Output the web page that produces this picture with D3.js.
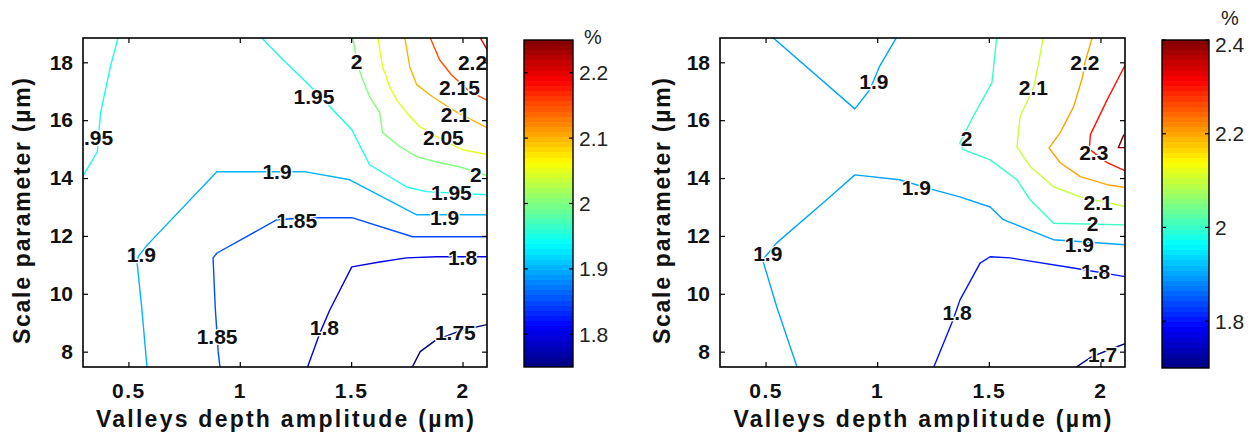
<!DOCTYPE html>
<html><head><meta charset="utf-8">
<script src="https://cdn.jsdelivr.net/npm/d3@7"></script>
<style>
body{margin:0;background:#fff}
svg text{font-family:"Liberation Sans",Arial,Helvetica,sans-serif}
</style></head>
<body><svg id="chart" width="1258" height="432"></svg>
<script>
// ---------- data ----------
const xTicks = [0.5, 1, 1.5, 2];
const yTicks = [8, 10, 12, 14, 16, 18];
const xDomain = [0.296, 2.11];
const yDomain = [7.47, 18.84];
const xLabel = "Valleys depth amplitude (\u00b5m)";
const yLabel = "Scale parameter (\u00b5m)";
const unitLabel = "%";

const leftCbarRange = [1.75, 2.25];
const leftCbarTicks = [1.8, 1.9, 2, 2.1, 2.2];
const rightCbarRange = [1.7, 2.4];
const rightCbarTicks = [1.8, 2, 2.2, 2.4];

// contour lines: level + polyline (x = amplitude, y = scale parameter)
const leftContours = [
  {level: 1.75, pts: [[1.77,7.4],[1.81,8.0],[1.88,8.4],[2.0,8.75],[2.12,8.95]]},
  {level: 1.8,  pts: [[1.301,7.4],[1.36,8.65],[1.404,9.44],[1.503,10.93],[1.628,11.10],[1.749,11.24],[1.883,11.28],[2.12,11.28]]},
  {level: 1.85, pts: [[0.912,7.4],[0.903,8.0],[0.89,9.5],[0.88,11.24],[0.898,11.41],[1.167,12.56],[1.30,12.63],[1.503,12.63],[1.776,11.97],[2.12,11.97]]},
  {level: 1.9,  pts: [[0.584,7.4],[0.56,9.5],[0.539,11.07],[0.545,11.3],[0.585,11.69],[0.897,14.22],[1.29,14.22],[1.494,13.94],[1.794,12.73],[2.12,12.73]]},
  {level: 1.95, pts: [[0.455,18.9],[0.419,17.85],[0.375,16.26],[0.36,14.9],[0.29,14.0]]},
  {level: 1.95, pts: [[1.091,18.9],[1.194,18.09],[1.30,17.3],[1.404,16.47],[1.503,15.67],[1.583,14.46],[1.749,13.69],[1.838,13.53],[2.12,13.42]]},
  {level: 2,    pts: [[1.507,18.9],[1.525,18.02],[1.547,17.5],[1.583,16.81],[1.628,16.26],[1.641,15.57],[1.718,15.09],[1.794,14.74],[1.897,14.53],[1.986,14.39],[2.12,14.06]]},
  {level: 2.05, pts: [[1.619,18.9],[1.641,17.85],[1.673,17.16],[1.704,16.7],[1.749,16.26],[1.807,15.78],[1.914,15.3],[2.0,14.98],[2.12,14.8]]},
  {level: 2.1,  pts: [[1.74,18.9],[1.763,17.85],[1.794,17.23],[1.865,16.81],[1.968,16.3],[2.12,15.7]]},
  {level: 2.15, pts: [[1.852,18.9],[1.897,18.09],[1.95,17.57],[2.03,17.0],[2.12,16.65]]},
  {level: 2.2,  pts: [[2.076,18.9],[2.12,18.3]]}
];
const leftLabels = [
  {level: 1.75, at: [1.968, 8.66]},
  {level: 1.8,  at: [1.38, 8.85]},
  {level: 1.8,  at: [2.0, 11.27]},
  {level: 1.85, at: [0.898, 8.51]},
  {level: 1.85, at: [1.256, 12.55]},
  {level: 1.9,  at: [0.558, 11.35]},
  {level: 1.9,  at: [1.167, 14.22]},
  {level: 1.9,  at: [1.92, 12.64]},
  {level: 1.95, at: [0.34, 15.4]},
  {level: 1.95, at: [1.333, 16.82]},
  {level: 1.95, at: [1.95, 13.5]},
  {level: 2,    at: [1.525, 18.02]},
  {level: 2,    at: [2.06, 14.12]},
  {level: 2.05, at: [1.914, 15.39]},
  {level: 2.1,  at: [1.968, 16.19]},
  {level: 2.15, at: [1.986, 17.12]},
  {level: 2.2,  at: [2.045, 17.98]}
];

const rightContours = [
  {level: 1.7, pts: [[1.879,7.4],[1.96,7.82],[2.05,8.1],[2.12,8.3]]},
  {level: 1.8, pts: [[1.25,7.4],[1.34,9.1],[1.371,9.79],[1.461,11.06],[1.506,11.28],[1.596,11.24],[1.879,10.89],[2.12,10.58]]},
  {level: 1.9, pts: [[0.644,7.4],[0.55,9.55],[0.487,11.17],[0.55,11.76],[0.774,13.25],[0.90,14.11],[1.10,13.94],[1.25,13.6],[1.37,13.35],[1.506,13.0],[1.565,12.56],[1.789,11.87],[2.12,11.69]]},
  {level: 1.9, pts: [[0.526,18.9],[0.90,16.39],[0.967,17.05],[1.01,17.85],[1.09,18.9]]},
  {level: 2,   pts: [[1.536,18.9],[1.514,17.29],[1.43,16.13],[1.37,15.21],[1.385,14.98],[1.506,14.63],[1.626,13.94],[1.685,13.25],[1.79,12.44],[2.12,12.38]]},
  {level: 2.1, pts: [[1.745,18.9],[1.72,17.85],[1.70,17.12],[1.64,16.12],[1.626,15.08],[1.685,14.4],[1.79,13.7],[1.91,13.35],[2.12,13.0]]},
  {level: 2.2, pts: [[1.965,18.9],[1.93,17.98],[1.92,17.5],[1.88,16.47],[1.82,15.57],[1.77,15.04],[1.82,14.53],[1.91,14.05],[2.03,13.77],[2.12,13.66]]},
  {level: 2.3, pts: [[2.12,18.05],[2.03,16.7],[1.955,15.5],[1.95,15.0],[2.03,14.53],[2.12,14.22]]},
  {level: 2.4, pts: [[2.105,15.5],[2.08,15.05],[2.112,15.05]]}
];
const rightLabels = [
  {level: 1.7, at: [2.01, 7.92]},
  {level: 1.8, at: [1.358, 9.37]},
  {level: 1.8, at: [1.978, 10.76]},
  {level: 1.9, at: [0.51, 11.4]},
  {level: 1.9, at: [1.175, 13.69]},
  {level: 1.9, at: [1.906, 11.72]},
  {level: 1.9, at: [0.985, 17.33]},
  {level: 2,   at: [1.40, 15.36]},
  {level: 2,   at: [1.965, 12.42]},
  {level: 2.1, at: [1.99, 13.16]},
  {level: 2.1, at: [1.70, 17.12]},
  {level: 2.2, at: [1.93, 17.98]},
  {level: 2.3, at: [1.97, 14.9]}
];

// ---------- layout ----------
const plotTop = 38, plotBottom = 367;
const panels = [
  {name: "L", x0: 83, x1: 487, contours: leftContours, labels: leftLabels,
   cb: {x: 524, w: 49, y0: 40, y1: 367, range: leftCbarRange, ticks: leftCbarTicks, pct: [593, 37]}, ylabX: 22},
  {name: "R", x0: 720, x1: 1125, contours: rightContours, labels: rightLabels,
   cb: {x: 1162, w: 47, y0: 40, y1: 368, range: rightCbarRange, ticks: rightCbarTicks, pct: [1230, 18]}, ylabX: 662}
];

function jet(t) {
  const c = v => Math.max(0, Math.min(1, v));
  const r = c(1.5 - Math.abs(4 * t - 3)), g = c(1.5 - Math.abs(4 * t - 2)), b = c(1.5 - Math.abs(4 * t - 1));
  return d3.rgb(r * 255, g * 255, b * 255).formatHex();
}

const FONT = '"Liberation Sans",Arial,Helvetica,sans-serif';
const svg = d3.select("#chart");
const defs = svg.append("defs");

panels.forEach(p => {
  const x = d3.scaleLinear().domain(xDomain).range([p.x0, p.x1]);
  const y = d3.scaleLinear().domain(yDomain).range([plotBottom, plotTop]);
  const tcol = d3.scaleLinear().domain(p.cb.range).range([0, 1]).clamp(true);

  defs.append("clipPath").attr("id", "clip" + p.name)
    .append("rect").attr("x", p.x0).attr("y", plotTop)
    .attr("width", p.x1 - p.x0).attr("height", plotBottom - plotTop);

  const g = svg.append("g").attr("clip-path", `url(#clip${p.name})`);
  const line = d3.line().x(d => x(d[0])).y(d => y(d[1]));
  g.selectAll("path.cl").data(p.contours).join("path").attr("class", "cl")
    .attr("d", d => line(d.pts)).attr("fill", "none")
    .attr("stroke", d => jet(tcol(d.level))).attr("stroke-width", 1.4)
    .attr("stroke-linejoin", "round");
  g.selectAll("text.lab").data(p.labels).join("text").attr("class", "lab")
    .attr("x", d => x(d.at[0])).attr("y", d => y(d.at[1]))
    .attr("dy", "0.36em").attr("text-anchor", "middle")
    .style("font-family", FONT).style("font-size", "21px").style("font-weight", "bold")
    .attr("fill", "#111").attr("stroke", "#fff").attr("stroke-width", 2.5)
    .attr("paint-order", "stroke").attr("stroke-linejoin", "round")
    .text(d => String(d.level));

  // axes
  const fmt = d => String(d);
  const ax = svg.append("g").attr("transform", `translate(0,${plotBottom})`)
    .call(d3.axisBottom(x).tickValues(xTicks).tickSizeInner(-5).tickSizeOuter(0).tickPadding(16).tickFormat(fmt));
  ax.selectAll("text").style("font-family", FONT).style("font-size", "21px").style("font-weight", "bold")
    .style("letter-spacing", "1.5px").attr("fill", "#111");
  svg.append("g").attr("transform", `translate(0,${plotTop})`)
    .call(d3.axisTop(x).tickValues(xTicks).tickSizeInner(-5).tickSizeOuter(0).tickFormat(""));
  const ay = svg.append("g").attr("transform", `translate(${p.x0},0)`)
    .call(d3.axisLeft(y).tickValues(yTicks).tickSizeInner(-5).tickSizeOuter(0).tickPadding(10).tickFormat(fmt));
  ay.selectAll("text").style("font-family", FONT).style("font-size", "21px").style("font-weight", "bold").attr("fill", "#111");
  svg.append("g").attr("transform", `translate(${p.x1},0)`)
    .call(d3.axisRight(y).tickValues(yTicks).tickSizeInner(-5).tickSizeOuter(0).tickFormat(""));
  svg.selectAll(".domain").remove();
  svg.selectAll(".tick line").attr("stroke", "#000").attr("stroke-width", 1.2);

  svg.append("rect").attr("x", p.x0).attr("y", plotTop).attr("width", p.x1 - p.x0).attr("height", plotBottom - plotTop)
    .attr("fill", "none").attr("stroke", "#000").attr("stroke-width", 1.6);

  // axis titles
  svg.append("text").attr("x", (p.x0 + p.x1) / 2).attr("y", 427).attr("text-anchor", "middle")
    .attr("textLength", 378).attr("lengthAdjust", "spacing")
    .style("font-family", FONT).style("font-size", "23px").style("font-weight", "bold").attr("fill", "#111")
    .text(xLabel);
  svg.append("text").attr("transform", `translate(${p.ylabX},211) rotate(-90)`).attr("dy", "0.36em")
    .attr("text-anchor", "middle").attr("textLength", 266).attr("lengthAdjust", "spacing")
    .style("font-family", FONT).style("font-size", "23px").style("font-weight", "bold").attr("fill", "#111")
    .text(yLabel);

  // colorbar
  const cb = p.cb;
  const cy = d3.scaleLinear().domain(cb.range).range([cb.y1, cb.y0]);
  const gid = "grad" + p.name;
  const grad = defs.append("linearGradient").attr("id", gid).attr("x1", 0).attr("y1", 1).attr("x2", 0).attr("y2", 0);
  const nStops = 64;
  d3.range(nStops).forEach(i => {
    const col = jet((i + 0.5) / nStops);
    grad.append("stop").attr("offset", i / nStops).attr("stop-color", col);
    grad.append("stop").attr("offset", (i + 1) / nStops).attr("stop-color", col);
  });
  svg.append("rect").attr("x", cb.x).attr("y", cb.y0).attr("width", cb.w).attr("height", cb.y1 - cb.y0)
    .attr("fill", `url(#${gid})`).attr("stroke", "#000").attr("stroke-width", 1.4);
  const cbg = svg.append("g");
  cb.ticks.forEach(t => {
    cbg.append("line").attr("x1", cb.x).attr("x2", cb.x + 4).attr("y1", cy(t)).attr("y2", cy(t)).attr("stroke", "#000").attr("stroke-width", 1.2);
    cbg.append("line").attr("x1", cb.x + cb.w - 4).attr("x2", cb.x + cb.w).attr("y1", cy(t)).attr("y2", cy(t)).attr("stroke", "#000").attr("stroke-width", 1.2);
    cbg.append("text").attr("x", cb.x + cb.w + 6).attr("y", Math.max(cy(t), cb.y0 + 4)).attr("dy", "0.36em")
      .style("font-family", FONT).style("font-size", "21px").attr("fill", "#222").text(String(t));
  });
  svg.append("text").attr("x", cb.pct[0]).attr("y", cb.pct[1]).attr("dy", "0.36em").attr("text-anchor", "middle")
    .style("font-family", FONT).style("font-size", "20px").attr("fill", "#222").text(unitLabel);
});
</script>
</body></html>
